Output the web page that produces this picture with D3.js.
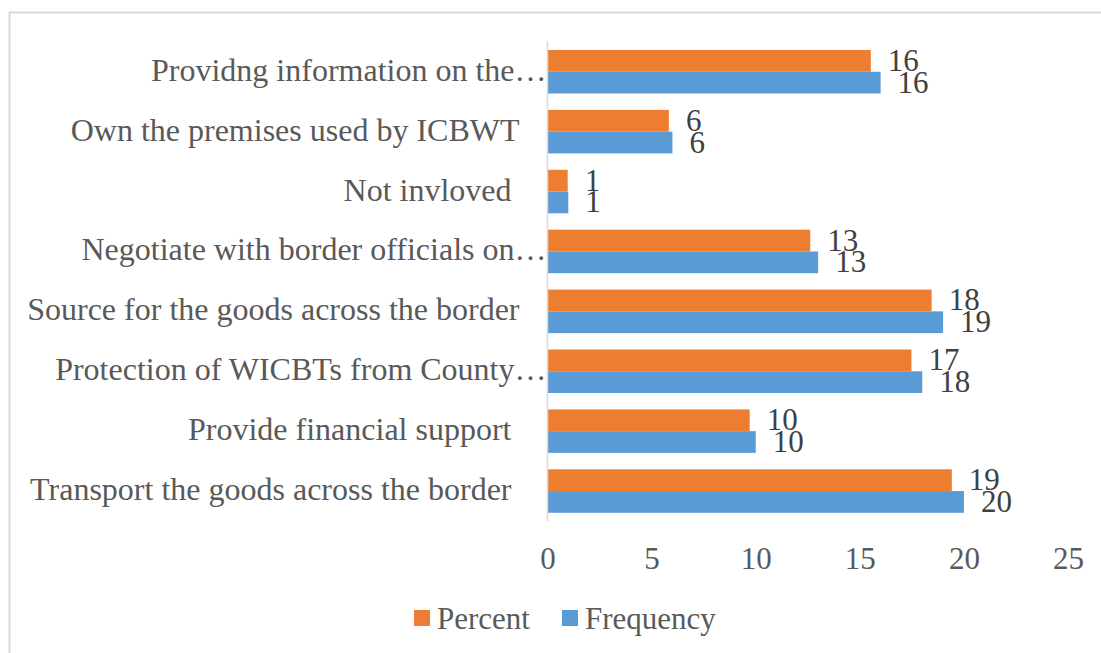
<!DOCTYPE html>
<html>
<head>
<meta charset="utf-8">
<script src="https://cdn.jsdelivr.net/npm/d3@7"></script>
<style>
  html, body { margin: 0; padding: 0; background: #fff; }
  svg { display: block; }
  text { font-family: "Liberation Serif", "Times New Roman", serif; fill: #595959; white-space: pre; }
</style>
</head>
<body>
<svg id="chart" width="1101" height="653"></svg>
<script>
// Roles of the respondents' partners in cross-border trade
const categories = [
  "Providng information on the…",
  "Own the premises used by ICBWT",
  "Not invloved ",
  "Negotiate with border officials on…",
  "Source for the goods across the border",
  "Protection of WICBTs from County…",
  "Provide financial support ",
  "Transport the goods across the border "
];
const percent   = [15.53, 5.83, 0.97, 12.62, 18.45, 17.48, 9.71, 19.42];
const frequency = [16, 6, 1, 13, 19, 18, 10, 20];
const seriesNames = ["Percent", "Frequency"];
const seriesColors = ["#ED7D31", "#5B9BD5"];
const xTicks = [0, 5, 10, 15, 20, 25];

const svg = d3.select("#chart");

// outer chart frame
svg.append("rect")
  .attr("x", 9.5).attr("y", 12.5)
  .attr("width", 1200).attr("height", 800)
  .attr("fill", "none")
  .attr("stroke", "#d9d9d9")
  .attr("stroke-width", 2);

const plot = { left: 547.5, right: 1068, top: 41.8, bottom: 521 };

const x = d3.scaleLinear().domain([0, 25]).range([plot.left, plot.right]);
const y = d3.scaleBand().domain(categories).range([plot.top, plot.bottom])
  .paddingInner(0.274).paddingOuter(0.137);
const ySub = d3.scaleBand().domain(seriesNames).range([0, y.bandwidth()]);

const rows = categories.map((c, i) => ({ cat: c, values: [percent[i], frequency[i]] }));

const fmt = d3.format(".0f");

const groups = svg.append("g").selectAll("g")
  .data(rows).join("g")
  .attr("transform", d => `translate(0,${y(d.cat)})`);

const bars = groups.selectAll("g.bar")
  .data(d => d.values.map((v, k) => ({ name: seriesNames[k], v, k })))
  .join("g").attr("class", "bar");

bars.append("rect")
  .attr("x", x(0))
  .attr("y", d => ySub(d.name))
  .attr("width", d => x(d.v) - x(0))
  .attr("height", ySub.bandwidth())
  .attr("fill", d => seriesColors[d.k]);

bars.append("text")
  .attr("x", d => x(d.v) + 17)
  .attr("y", d => ySub(d.name) + ySub.bandwidth() / 2 + 10)
  .attr("font-size", 31)
  .style("fill", "#404040")
  .text(d => fmt(d.v));

// category axis line
svg.append("line")
  .attr("x1", x(0)).attr("x2", x(0))
  .attr("y1", plot.top).attr("y2", plot.bottom)
  .attr("stroke", "#d9d9d9").attr("stroke-width", 1.5);

// category labels
svg.append("g").selectAll("text")
  .data(categories).join("text")
  .attr("x", d => d.endsWith("…") ? x(0) - 1 : x(0) - 28)
  .attr("y", d => y(d) + y.bandwidth() / 2 + 9)
  .attr("text-anchor", "end")
  .attr("font-size", 32)
  .text(d => d);

// value axis tick labels
const xAxis = d3.axisBottom(x).tickValues(xTicks).tickSize(0).tickPadding(0);
const gx = svg.append("g").attr("transform", `translate(0,${plot.bottom})`).call(xAxis);
gx.select(".domain").remove();
gx.selectAll("text")
  .attr("dy", null)
  .attr("y", 48)
  .attr("font-size", 31)
  .attr("font-family", null)
  .style("fill", "#595959");

// legend
const legendX = [414, 562];
const legend = svg.append("g").selectAll("g")
  .data(seriesNames).join("g")
  .attr("transform", (d, i) => `translate(${legendX[i]},610)`);
legend.append("rect")
  .attr("width", 16).attr("height", 16)
  .attr("fill", (d, i) => seriesColors[i]);
legend.append("text")
  .attr("x", 23).attr("y", 19)
  .attr("font-size", 31)
  .text(d => d);
</script>
</body>
</html>
